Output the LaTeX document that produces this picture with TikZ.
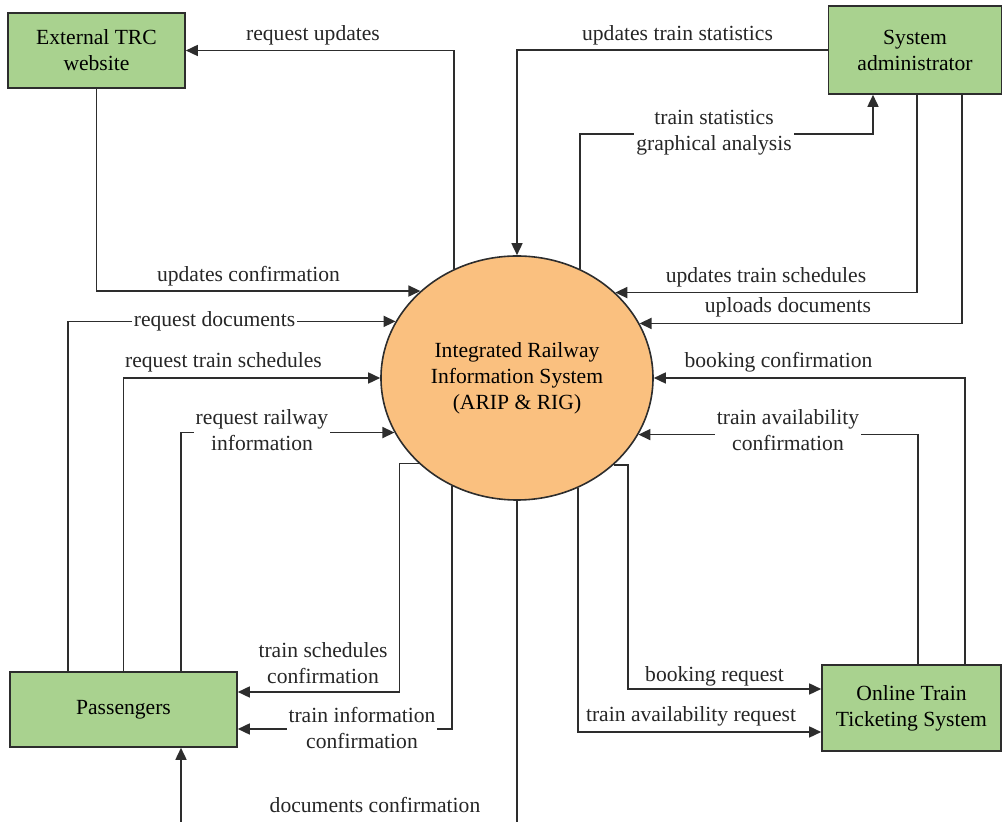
\documentclass[tikz,border=0pt]{standalone}
\usepackage{fontspec}
\setmainfont{Liberation Serif}
\usetikzlibrary{arrows.meta,shapes.geometric}
\definecolor{boxgreen}{RGB}{169,210,143}
\definecolor{ellorange}{RGB}{250,192,127}
\definecolor{linegray}{RGB}{45,45,45}
\begin{document}
\begin{tikzpicture}[x=0.5pt,y=-0.5pt,
  font=\fontsize{10.8}{13}\selectfont,
  entity/.style={draw=linegray,line width=0.8pt,fill=boxgreen,align=center,inner sep=0pt},
  proc/.style={ellipse,draw=linegray,line width=0.8pt,fill=ellorange,align=center,inner sep=0pt,minimum width=136pt,minimum height=122pt},
  flow/.style={draw=linegray,line width=0.8pt,-{Triangle[length=6pt,width=5.5pt]}},
  lbl/.style={align=center,inner sep=1pt,text=black!85},
  lblw/.style={lbl,fill=white}]
\useasboundingbox (0,0) rectangle (1002,822);
\clip (0,0) rectangle (1002,822);

% nodes
\node[entity,minimum width=88.5pt,minimum height=37.5pt] (trc) at (96.5,50.5) {External TRC\\website};
\node[entity,minimum width=86.5pt,minimum height=44pt] (sa) at (915,50) {System\\administrator};
\node[entity,minimum width=113.5pt,minimum height=37.5pt] (pass) at (123.5,709.5) {Passengers};
\node[entity,minimum width=89.5pt,minimum height=43pt] (otts) at (911.5,708) {Online Train\\Ticketing System};
\node[proc] (ell) at (517,378) {Integrated Railway\\Information System\\(ARIP \& RIG)};

% attachment coordinates
\coordinate (saga) at ([xshift=-21pt]sa.south);
\coordinate (sats) at ([xshift=1pt]sa.south);
\coordinate (saud) at ([xshift=23.5pt]sa.south);
\coordinate (prd) at ([xshift=29.5pt]pass.north west);
\coordinate (pri) at ([xshift=28.75pt]pass.north);
\coordinate (pdc) at ([xshift=28.75pt]pass.south);
\coordinate (psc) at ([yshift=8.75pt]pass.east);
\coordinate (pic) at ([yshift=-9.75pt]pass.east);
\coordinate (obc) at ([xshift=26.75pt]otts.north);
\coordinate (oac) at ([xshift=3.25pt]otts.north);
\coordinate (obr) at ([yshift=9.5pt]otts.west);
\coordinate (oar) at ([yshift=-12pt]otts.west);

% connectors
\draw[flow] (ell.120.2) |- (trc.east);
\draw[flow] (trc.south) |- (ell.138.95);
\draw[flow] (sa.west) -| (ell.north);
\draw[flow] (ell.60.77) |- ([yshift=-19.5pt]saga) -- (saga);
\draw[flow] (sats) |- (ell.41.05);
\draw[flow] (saud) |- (ell.24.87);
\draw[flow] (prd) |- (ell.155.13);
\draw[flow] (pass.north) |- (ell.west);
\draw[flow] (pri) |- (ell.204.37);
\draw[flow] (ell.221.05) -- ++(-19.4,0) |- (psc);
\draw[flow] (ell.239.77) |- (pic);
\draw[flow] (ell.south) -- ++(0,340) -| (pdc);
\draw[flow] (obc) |- (ell.east);
\draw[flow] (oac) |- (ell.335.63);
\draw[flow] (ell.318.95) -- ++(14.4,0) |- (obr);
\draw[flow] (ell.299.23) |- (oar);

% labels
\node[lbl] (l1) at (313,35) {request updates};
\node[lbl] (l2) at (248.5,276) {updates confirmation};
\node[lbl] (l3) at (677.5,35) {updates train statistics};
\node[lblw] (l4) at (714,132.5) {train statistics\\graphical analysis};
\node[lbl] (l5) at (766,277) {updates train schedules};
\node[lbl] (l6) at (788,307.5) {uploads documents};
\node[lblw] (l7) at (214.5,321) {request documents};
\node[lbl] (l8) at (223.5,362) {request train schedules};
\node[lblw] (l9) at (262,430) {request railway\\information};
\node[lbl] (l10) at (323,663) {train schedules\\confirmation};
\node[lblw] (l11) at (362,728) {train information\\confirmation};
\node[lbl] (l12) at (375,805) {documents confirmation};
\node[lbl] (l13) at (778.5,362) {booking confirmation};
\node[lblw] (l14) at (788,430) {train availability\\confirmation};
\node[lbl] (l15) at (714.5,676) {booking request};
\node[lbl] (l16) at (691,716) {train availability request};
\end{tikzpicture}
\end{document}
